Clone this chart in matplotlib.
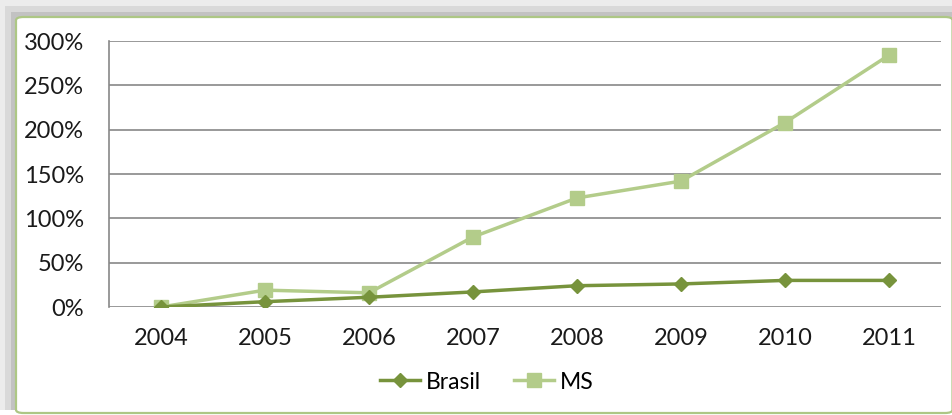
import matplotlib.pyplot as plt
from matplotlib.patches import FancyBboxPatch, Rectangle
from matplotlib.ticker import FuncFormatter

# Datos
anos = ['2004', '2005', '2006', '2007', '2008', '2009', '2010', '2011']
brasil = [0, 6, 11, 17, 24, 26, 30, 30]
ms = [0, 19, 16, 79, 123, 142, 208, 284]

W, H = 953, 415

plt.rcParams['font.family'] = ['Lato', 'DejaVu Sans']

fig = plt.figure(figsize=(W / 100, H / 100), dpi=100)
fig.patch.set_facecolor('white')


# convierte un rectangulo en pixeles (arriba-izquierda) a coordenadas de figura
def caja(x0, y0, x1, y1):
    return (x0 / W, 1 - y1 / H), (x1 - x0) / W, (y1 - y0) / H


# sombra gris arriba y a la izquierda
for (x0, y0, color) in [(0, 0, '#ececec'), (5, 6, '#d9d9d9'), (11, 12, '#c2c2c2')]:
    pos, w, h = caja(x0, y0, W, 410)
    fig.patches.append(Rectangle(pos, w, h, transform=fig.transFigure,
                                 facecolor=color, edgecolor='none', zorder=-3))

# marco del grafico
pos, w, h = caja(16, 17, 952.5, 413)
fig.patches.append(FancyBboxPatch(pos, w, h, boxstyle='round,pad=0,rounding_size=0.008',
                                  transform=fig.transFigure, facecolor='white',
                                  edgecolor='#adc785', linewidth=1.6, zorder=-1))

ax = fig.add_axes([109 / W, 1 - 307 / H, 832 / W, 266 / H])
ax.set_facecolor('white')

x = range(len(anos))
ax.plot(x, brasil, color='#77933c', linewidth=2.5, marker='D', markersize=7, label='Brasil', zorder=3)
ax.plot(x, ms, color='#b3cc8a', linewidth=2.5, marker='s', markersize=10, label='MS', zorder=2)

ax.set_xlim(-0.5, len(anos) - 0.5)
ax.set_ylim(0, 300)
ax.set_yticks(range(0, 301, 50))
ax.yaxis.set_major_formatter(FuncFormatter(lambda v, p: '%d%%' % v))
ax.set_xticks(list(x))
ax.set_xticklabels(anos)
ax.grid(True, axis='y', color='#888888', linewidth=1.2)
ax.set_axisbelow(True)
for s in ['top', 'right', 'bottom']:
    ax.spines[s].set_visible(False)
ax.spines['left'].set_color('#888888')
ax.spines['left'].set_linewidth(1.2)
ax.tick_params(axis='both', length=0, labelsize=17, colors='#1a1a1a')
ax.tick_params(axis='x', pad=15)
ax.tick_params(axis='y', pad=18)

fig.legend(loc='center', bbox_to_anchor=(487 / W, 1 - 382 / H), bbox_transform=fig.transFigure,
           ncol=2, frameon=False, fontsize=16.5, handlelength=1.75, handletextpad=0.25,
           columnspacing=1.45)

fig.savefig('out.png', dpi=100, facecolor=fig.get_facecolor())
